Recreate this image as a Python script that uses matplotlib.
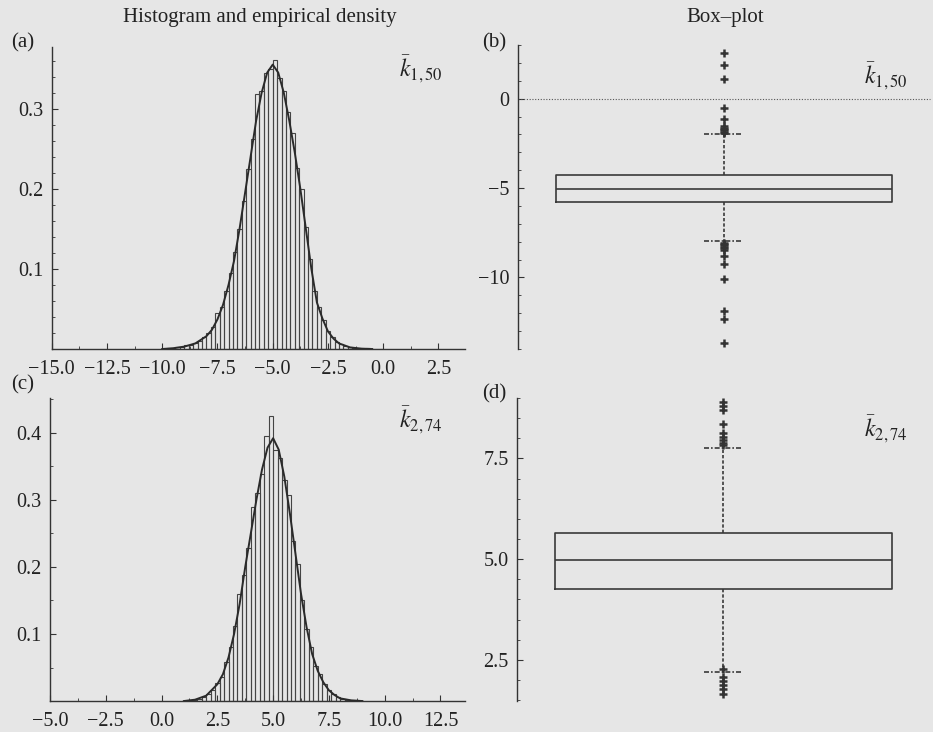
import numpy as np
import matplotlib
matplotlib.use("Agg")
import matplotlib.pyplot as plt
from matplotlib.ticker import MultipleLocator, FixedLocator

plt.rcParams['font.family'] = ['Liberation Serif', 'DejaVu Serif']
plt.rcParams['mathtext.fontset'] = 'stix'
plt.rcParams['font.size'] = 14

BG = '#e6e6e6'
INK = '#333333'

# ---- histogram (a): k_{1,50} ----
edges_a = np.arange(-10.0, 0.0, 0.2)
heights_a = [0.000, 0.001, 0.001, 0.002, 0.003, 0.005, 0.005, 0.008, 0.010, 0.015,
             0.020, 0.028, 0.045, 0.052, 0.072, 0.095, 0.121, 0.150, 0.185, 0.225,
             0.262, 0.318, 0.322, 0.345, 0.350, 0.361, 0.338, 0.322, 0.296, 0.270,
             0.226, 0.200, 0.152, 0.112, 0.072, 0.052, 0.036, 0.022, 0.015, 0.009,
             0.006, 0.004, 0.002, 0.001, 0.001, 0.000, 0.001, 0.000, 0.000, 0.000]
dens_a_x = [-10.0, -9.5, -9.0, -8.5, -8.0, -7.75, -7.5, -7.25, -7.0, -6.75, -6.5,
            -6.25, -6.0, -5.75, -5.5, -5.25, -5.0, -4.75, -4.5, -4.25, -4.0, -3.75,
            -3.5, -3.25, -3.0, -2.75, -2.5, -2.25, -2.0, -1.5, -1.0, -0.5]
dens_a_y = [0.000, 0.001, 0.003, 0.007, 0.016, 0.024, 0.037, 0.055, 0.080, 0.110, 0.150,
            0.195, 0.240, 0.285, 0.320, 0.345, 0.355, 0.345, 0.320, 0.285, 0.245, 0.200,
            0.150, 0.100, 0.058, 0.038, 0.022, 0.013, 0.007, 0.002, 0.0005, 0.000]

# ---- histogram (c): k_{2,74} ----
edges_c = np.arange(1.0, 9.0, 0.2)
heights_c = [0.000, 0.001, 0.002, 0.003, 0.006, 0.011, 0.017, 0.027, 0.036, 0.058,
             0.080, 0.112, 0.160, 0.188, 0.228, 0.290, 0.310, 0.338, 0.396, 0.425,
             0.375, 0.362, 0.330, 0.307, 0.238, 0.205, 0.150, 0.108, 0.080, 0.052,
             0.040, 0.025, 0.016, 0.010, 0.006, 0.003, 0.002, 0.001, 0.002, 0.000]
dens_c_x = [1.0, 1.5, 2.0, 2.5, 2.75, 3.0, 3.25, 3.5, 3.75, 4.0, 4.25, 4.5, 4.75, 5.0,
            5.25, 5.5, 5.75, 6.0, 6.25, 6.5, 6.75, 7.0, 7.25, 7.5, 7.75, 8.0, 8.5, 9.0]
dens_c_y = [0.000, 0.002, 0.008, 0.025, 0.040, 0.065, 0.100, 0.145, 0.200, 0.250, 0.300,
            0.345, 0.378, 0.392, 0.375, 0.335, 0.280, 0.220, 0.160, 0.110, 0.070, 0.045,
            0.028, 0.016, 0.009, 0.004, 0.001, 0.000]

# ---- box-plot summaries ----
box_b = dict(med=-5.03, q1=-5.78, q3=-4.25, whislo=-7.96, whishi=-2.0,
             fliers=[2.55, 1.86, 1.08, -0.50, -1.12, -1.55, -1.62, -1.70, -1.78, -1.85,
                     -1.92, -8.05, -8.12, -8.20, -8.28, -8.36, -8.44, -8.81, -9.22,
                     -10.11, -11.86, -12.33, -13.65])
box_d = dict(med=4.97, q1=4.27, q3=5.65, whislo=2.19, whishi=7.75,
             fliers=[8.91, 8.80, 8.69, 8.35, 8.13, 8.02, 7.95, 7.88, 7.83,
                     2.28, 2.08, 1.98, 1.88, 1.78, 1.66])


def fmt(v, pattern):
    return (pattern % v).replace('-', '\u2212')


def style_axes(ax):
    ax.set_facecolor(BG)
    for s in ['top', 'right']:
        ax.spines[s].set_visible(False)
    for s in ['left', 'bottom']:
        ax.spines[s].set_color(INK)
        ax.spines[s].set_linewidth(1.0)
    ax.tick_params(which='both', direction='in', colors=INK, labelcolor='#222222')
    ax.tick_params(which='major', length=4, width=0.8, labelsize=14.5, pad=6)
    ax.tick_params(which='minor', length=2, width=0.6)


def histo(ax, edges, heights, dx, dy, xlim, ylim, xticks, yticks, yminor, label):
    style_axes(ax)
    ax.bar(edges, heights, width=0.2, align='edge', fill=False,
           edgecolor='#444444', linewidth=0.8)
    ax.plot(dx, dy, color='#2a2a2a', linewidth=1.4)
    ax.set_xlim(*xlim)
    ax.set_ylim(*ylim)
    ax.xaxis.set_major_locator(FixedLocator(xticks))
    ax.xaxis.set_minor_locator(MultipleLocator(1.25))
    ax.set_xticklabels([fmt(t, '%.1f') for t in xticks])
    ax.yaxis.set_major_locator(FixedLocator(yticks))
    ax.yaxis.set_minor_locator(MultipleLocator(yminor))
    ax.set_yticklabels([fmt(t, '%.1f') for t in yticks])
    ax.tick_params(axis='x', which='major', pad=8)
    ax.text(0.84, 0.9, label, transform=ax.transAxes, fontsize=17, color='#222222')


def boxplot(ax, stats, ylim, yticks, ylabels, yminor, label):
    style_axes(ax)
    ax.spines['bottom'].set_visible(False)
    ax.bxp([stats], positions=[1], widths=1.63, capwidths=0.19,
           boxprops=dict(color='#3a3a3a', linewidth=1.2),
           medianprops=dict(color='#3a3a3a', linewidth=1.2),
           whiskerprops=dict(color='#3a3a3a', linewidth=1.2, linestyle=(0, (2, 1.2))),
           capprops=dict(color='#3a3a3a', linewidth=1.2, linestyle=(0, (3, 1.2, 1, 1.2))),
           flierprops=dict(marker='+', markersize=6, markeredgewidth=1.8,
                           markeredgecolor='#333333'))
    ax.set_xlim(0, 2)
    ax.set_xticks([])
    ax.set_ylim(*ylim)
    ax.yaxis.set_major_locator(FixedLocator(yticks))
    ax.yaxis.set_minor_locator(MultipleLocator(yminor))
    ax.set_yticklabels(ylabels)
    ax.text(0.84, 0.87, label, transform=ax.transAxes, fontsize=17, color='#222222')


fig = plt.figure(figsize=(9.33, 7.32), dpi=100, facecolor=BG)

ax_a = fig.add_axes([0.0554, 0.5232, 0.443, 0.4126])
ax_b = fig.add_axes([0.555, 0.5232, 0.4416, 0.4153])
ax_c = fig.add_axes([0.0536, 0.0423, 0.4448, 0.414])
ax_d = fig.add_axes([0.554, 0.0423, 0.4426, 0.414])

histo(ax_a, edges_a, heights_a, dens_a_x, dens_a_y, (-15, 3.7), (0, 0.377),
      [-15, -12.5, -10, -7.5, -5, -2.5, 0, 2.5], [0.1, 0.2, 0.3], 0.02,
      r'$\bar{k}_{1,50}$')
histo(ax_c, edges_c, heights_c, dens_c_x, dens_c_y, (-5, 13.6), (0, 0.452),
      [-5, -2.5, 0, 2.5, 5, 7.5, 10, 12.5], [0.1, 0.2, 0.3, 0.4], 0.05,
      r'$\bar{k}_{2,74}$')

ax_b.axhline(0, color='#555555', linewidth=0.8, linestyle=(0, (1, 1.5)), clip_on=False)
boxplot(ax_b, box_b, (-14, 3), [-10, -5, 0], [fmt(t, '%d') for t in [-10, -5, 0]], 1,
        r'$\bar{k}_{1,50}$')
boxplot(ax_d, box_d, (1.48, 9.0), [2.5, 5.0, 7.5], ['2.5', '5.0', '7.5'], 0.5,
        r'$\bar{k}_{2,74}$')

fig.text(0.278, 0.976, 'Histogram and empirical density', ha='center', va='center',
         fontsize=15, color='#222222')
fig.text(0.777, 0.976, 'Box\u2013plot', ha='center', va='center',
         fontsize=15, color='#222222')
for x, y, s in [(0.024, 0.941, '(a)'), (0.53, 0.941, '(b)'),
                (0.024, 0.474, '(c)'), (0.53, 0.462, '(d)')]:
    fig.text(x, y, s, ha='center', va='center', fontsize=15, color='#222222')

fig.savefig('out.png', dpi=100, facecolor=BG)
